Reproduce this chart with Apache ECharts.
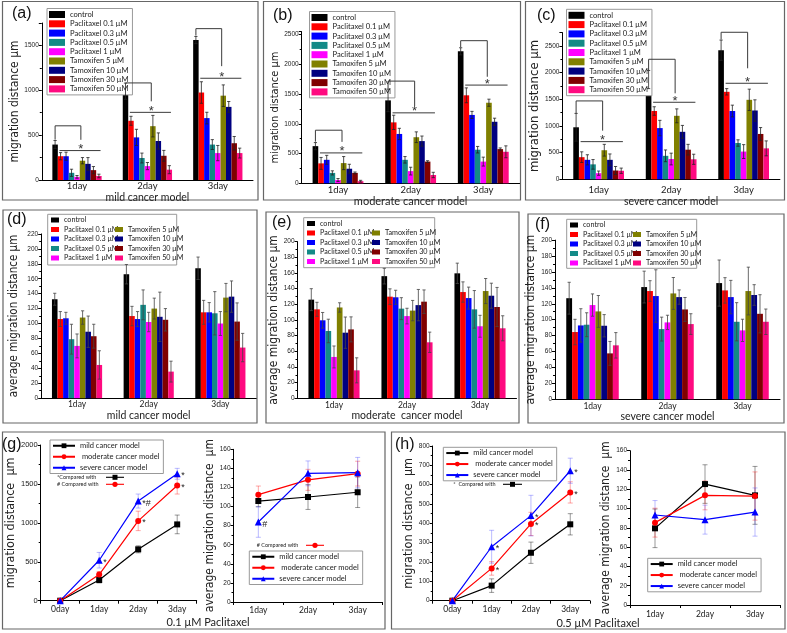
<!DOCTYPE html>
<html><head><meta charset="utf-8">
<script src="https://cdn.jsdelivr.net/npm/echarts@6/dist/echarts.min.js"></script>
<style>html,body{margin:0;padding:0;background:#fff}#c{width:787px;height:633px}</style>
</head><body><div id="c"></div>
<script>
// ---------------- DATA ----------------
const dayCats = ['1day', '2day', '3day'];
const lineDays = ['0day', '1day', '2day', '3day'];
const treatments = ['control', 'Paclitaxel 0.1 μM', 'Paclitaxel 0.3 μM', 'Paclitaxel 0.5 μM', 'Paclitaxel 1 μM',
  'Tamoxifen 5 μM', 'Tamoxifen 10 μM', 'Tamoxifen 30 μM', 'Tamoxifen 50 μM'];
const models = ['mild cancer model', 'moderate cancer model', 'severe cancer model'];

// migration distance (μm), one row per treatment: [1day, 2day, 3day]
const mildDist = [[395, 990, 1560], [265, 660, 975], [265, 475, 690], [80, 245, 395], [35, 155, 300], [215, 600, 940], [180, 435, 815], [110, 270, 410], [45, 115, 300]];
const mildDistErr = [[45, 90, 40], [40, 50, 120], [45, 90, 65], [40, 55, 55], [15, 40, 85], [35, 120, 120], [70, 90, 60], [40, 60, 75], [20, 45, 55]];
const modDist = [[625, 1395, 2220], [335, 1025, 1480], [395, 830, 1150], [175, 395, 565], [55, 205, 365], [340, 775, 1355], [245, 710, 1035], [175, 365, 575], [35, 140, 530]];
const modDistErr = [[60, 190, 60], [100, 120, 125], [75, 95, 60], [35, 55, 55], [25, 65, 75], [110, 90, 60], [75, 85, 60], [15, 15, 20], [15, 45, 100]];
const sevDist = [[975, 1870, 2420], [415, 1280, 1640], [365, 960, 1280], [280, 440, 680], [115, 380, 520], [545, 1190, 1490], [365, 890, 1290], [165, 555, 850], [160, 375, 580]];
const sevDistErr = [[260, 170, 190], [100, 80, 60], [95, 145, 110], [90, 110, 60], [40, 110, 130], [110, 130, 200], [110, 120, 200], [75, 100, 120], [50, 95, 140]];

// significance brackets: [day index, bracket top, left leg bottom, drop end, line level]
const mildBrackets = [[0, 604, 450, 448, 328], [1, 1082, 1080, 877, 754], [2, 1687, 1610, 1269, 1134]];
const modBrackets = [[0, 893, 700, 697, 511], [1, 1719, 1590, 1298, 1185], [2, 2399, 2290, 1792, 1652]];
const sevBrackets = [[0, 1469, 1240, 912, 706], [1, 2250, 2045, 1612, 1444], [2, 2756, 2620, 2081, 1800]];

// average migration distance (μm)
const mildAvg = [[132.5, 166, 174], [106, 110, 115], [107, 106, 115], [79, 125, 113.7], [70, 102, 100], [108, 120, 134.7], [89, 109, 136], [83, 105, 102.6], [44.5, 35.6, 67.8]];
const mildAvgErr = [[8, 13, 15], [10, 13, 16], [8, 10, 13], [20, 20, 29], [16, 13, 16], [9, 14, 19], [21, 33, 21], [16, 15, 25], [19, 14, 19]];
const modAvg = [[126, 156, 159.6], [113.6, 129.8, 135.7], [99.6, 129, 128], [86, 114.5, 113.6], [52.8, 105, 92], [116, 112, 137], [83.8, 119, 131], [88, 123.4, 116.6], [35.7, 71.5, 89.4]];
const modAvgErr = [[14, 10, 13], [9, 10, 13], [10, 9, 14], [15, 14, 24], [14, 10, 14], [6, 13, 16], [20, 20, 16], [16, 15, 25], [16, 13, 16]];
const sevAvg = [[127, 141, 146], [84.5, 136, 136.8], [92.8, 129.7, 128.4], [93.7, 88.2, 97.4], [118.4, 96.6, 86.6], [110.4, 133, 136], [92.4, 128.4, 131], [57.7, 112.9, 107.4], [67.8, 94.5, 97.4]];
const sevAvgErr = [[20, 20, 29], [16, 13, 16], [21, 33, 21], [15, 15, 24], [14, 9, 14], [20, 20, 30], [14, 9, 13], [15, 15, 24], [16, 13, 16]];

// 0.1 μM Paclitaxel, per model
const p01Dist = [[0, 265, 660, 980], [0, 335, 1025, 1480], [0, 520, 1280, 1630]];
const p01DistErr = [[0, 35, 45, 120], [0, 40, 125, 110], [0, 100, 90, 70]];
const p01Avg = [[105.8, 110, 115], [112.5, 128, 134.5], [83.8, 134.8, 135.5]];
const p01AvgErr = [[6, 13, 16], [9, 11, 13], [16, 13, 16]];
// 0.5 μM Paclitaxel, per model
const p05Dist = [[0, 78, 248, 395], [0, 167, 397, 560], [0, 279, 440, 672]];
const p05DistErr = [[0, 35, 55, 55], [0, 35, 60, 55], [0, 85, 105, 65]];
const p05Avg = [[79.5, 125.4, 113.7], [85.4, 113.7, 113], [93.3, 88.5, 96.4]];
const p05AvgErr = [[20, 20, 30], [15, 15, 25], [15, 15, 25]];

// significance marks on line plots: [day index, model index, text]
const p01DistMarks = [[1, 2, '*'], [2, 2, '*#'], [2, 1, '*'], [3, 1, '*'], [3, 2, '*']];
const p01AvgMarks = [[0, 2, '#']];
const p05DistMarks = [[1, 2, '*'], [1, 1, '*'], [2, 2, '*'], [2, 1, '*'], [3, 2, '*'], [3, 1, '*']];

// ---------------- STYLE ----------------
const treatColors = ['#000000', '#ff0000', '#0000ff', '#138a87', '#ff00ff', '#808000', '#000080', '#800000', '#ff0a80'];
const modelColors = ['#000000', '#ff0000', '#0000ff'];
const modelErrColors = ['rgba(0,0,0,0.4)', 'rgba(255,0,0,0.35)', 'rgba(60,60,255,0.35)'];
const modelSymbols = ['rect', 'circle', 'triangle'];
const FONT = "'Liberation Sans', Arial, sans-serif";
const NARROW = "'Liberation Sans Narrow', 'DejaVu Sans Condensed', sans-serif";
const HUM = "Lato, 'Open Sans', sans-serif";

const grids = [], xAxes = [], yAxes = [], series = [], legends = [], graphics = [];

function barErrRender(color, capHalf) {
  return function (params, api) {
    const cat = api.value(0), s = api.value(1);
    const band = api.size([1, 0])[0];
    const bw = band * 0.7 / treatments.length;
    const lo = api.coord([cat, api.value(2)]);
    const hi = api.coord([cat, api.value(3)]);
    const x = lo[0] - band * 0.35 + (s + 0.5) * bw;
    const st = () => ({stroke: color, lineWidth: 0.8});
    return {type: 'group', children: [
      {type: 'line', shape: {x1: x, y1: lo[1], x2: x, y2: hi[1]}, style: st()},
      {type: 'line', shape: {x1: x - capHalf, y1: hi[1], x2: x + capHalf, y2: hi[1]}, style: st()},
      {type: 'line', shape: {x1: x - capHalf, y1: lo[1], x2: x + capHalf, y2: lo[1]}, style: st()}
    ]};
  };
}

function bracketRender(params, api) {
  const cat = api.value(0);
  const band = api.size([1, 0])[0];
  const bw = band * 0.7 / treatments.length;
  const cx = api.coord([cat, 0])[0];
  const y = i => api.coord([cat, api.value(i)])[1];
  const yTop = y(1), yLeg = y(2), yDrop = y(3), yLine = y(4);
  const xL = cx - band * 0.35 + 0.5 * bw;
  const xR = cx + band * 0.055;
  const l1 = cx - band * 0.35 + 1.3 * bw, l2 = cx + band * 0.35 - 0.2 * bw;
  return {type: 'group', children: [
    {type: 'polyline', shape: {points: [[xL, yLeg], [xL, yTop], [xR, yTop], [xR, yDrop]]}, style: {stroke: '#3a3a3a', lineWidth: 1, fill: 'none'}},
    {type: 'line', shape: {x1: l1, y1: yLine, x2: l2, y2: yLine}, style: {stroke: '#3a3a3a', lineWidth: 1}},
    {type: 'text', x: xR, y: yLine - 1, style: {text: '*', fontSize: 13, fontFamily: FONT, fill: '#333', align: 'center', verticalAlign: 'middle'}}
  ]};
}

function lineErrRender(capHalf) {
  return function (params, api) {
    const cat = api.value(0), m = api.value(1);
    const lo = api.coord([cat, api.value(2)]), hi = api.coord([cat, api.value(3)]);
    const c = modelErrColors[m];
    const st = () => ({stroke: c, lineWidth: 1});
    return {type: 'group', children: [
      {type: 'line', shape: {x1: lo[0], y1: lo[1], x2: hi[0], y2: hi[1]}, style: st()},
      {type: 'line', shape: {x1: hi[0] - capHalf, y1: hi[1], x2: hi[0] + capHalf, y2: hi[1]}, style: st()},
      {type: 'line', shape: {x1: lo[0] - capHalf, y1: lo[1], x2: lo[0] + capHalf, y2: lo[1]}, style: st()}
    ]};
  };
}

function markRender(marks) {
  return function (params, api) {
    const pt = api.coord([api.value(0), api.value(1)]);
    return {type: 'text', x: pt[0] + 4, y: pt[1] + 2, style: {text: marks[params.dataIndex][2], fontSize: 9, fontFamily: FONT, fill: '#222', align: 'left', verticalAlign: 'middle'}};
  };
}

function valueAxis(gi, p) {
  return {gridIndex: gi, type: 'value', min: 0, max: p.max, interval: p.interval,
    axisLine: {show: true, lineStyle: {color: '#000', width: 1}},
    axisTick: {show: true, length: 3, lineStyle: {color: '#000'}},
    minorTick: {show: true, splitNumber: 2, length: 2, lineStyle: {color: '#000'}},
    splitLine: {show: false},
    axisLabel: {fontFamily: FONT, fontSize: p.tickFont, color: '#222', margin: 3,
      formatter: v => (Math.abs(v % p.interval) < 1e-9 ? String(v) : '')},
    name: p.yName, nameLocation: 'middle', nameGap: p.yNameGap,
    nameTextStyle: {fontFamily: NARROW, fontSize: p.yNameFont, color: '#222'}};
}

function addBarPanel(p) {
  const gi = grids.length;
  grids.push({left: p.left, top: p.top, width: p.width, height: p.height});
  xAxes.push({gridIndex: gi, type: 'category', data: dayCats, boundaryGap: true,
    axisLine: {lineStyle: {color: '#000', width: 1}}, axisTick: {show: false},
    axisLabel: {fontFamily: HUM, fontSize: p.catFont, color: '#222', margin: p.catMargin},
    name: p.xName, nameLocation: 'middle', nameGap: p.xNameGap,
    nameTextStyle: {fontFamily: HUM, fontSize: p.xNameFont, color: '#222'}});
  yAxes.push(valueAxis(gi, p));
  p.vals.forEach((arr, s) => {
    series.push({type: 'bar', name: treatments[s], xAxisIndex: gi, yAxisIndex: gi, data: arr,
      barGap: '0%', barCategoryGap: '30%', itemStyle: {color: treatColors[s]}, animation: false});
  });
  const errData = [];
  p.vals.forEach((arr, s) => arr.forEach((v, c) => errData.push([c, s, v - p.errs[s][c], v + p.errs[s][c]])));
  series.push({type: 'custom', xAxisIndex: gi, yAxisIndex: gi, data: errData,
    renderItem: barErrRender(p.errColor, p.cap), z: 5, animation: false, silent: true});
  if (p.brackets) {
    series.push({type: 'custom', xAxisIndex: gi, yAxisIndex: gi, data: p.brackets,
      renderItem: bracketRender, z: 6, clip: false, animation: false, silent: true});
  }
}

function addLinePanel(p) {
  const gi = grids.length;
  grids.push({left: p.left, top: p.top, width: p.width, height: p.height});
  xAxes.push({gridIndex: gi, type: 'category', data: p.cats, boundaryGap: true,
    axisLine: {lineStyle: {color: '#000', width: 1}}, axisTick: {show: true, length: 3, lineStyle: {color: '#000'}},
    axisLabel: {fontFamily: HUM, fontSize: p.catFont, color: '#222', margin: p.catMargin}});
  yAxes.push(valueAxis(gi, p));
  const errData = [];
  p.vals.forEach((arr, m) => arr.forEach((v, c) => { if (p.errs[m][c] > 0) errData.push([c, m, v - p.errs[m][c], v + p.errs[m][c]]); }));
  series.push({type: 'custom', xAxisIndex: gi, yAxisIndex: gi, data: errData,
    renderItem: lineErrRender(p.cap), z: 1, animation: false, silent: true});
  p.vals.forEach((arr, m) => {
    series.push({type: 'line', name: models[m], xAxisIndex: gi, yAxisIndex: gi, data: arr,
      symbol: modelSymbols[m], symbolSize: m === 2 ? 7 : 6, z: 3,
      lineStyle: {color: modelColors[m], width: 1.2}, itemStyle: {color: modelColors[m]}, animation: false});
  });
  if (p.marks) {
    series.push({type: 'custom', xAxisIndex: gi, yAxisIndex: gi,
      data: p.marks.map(k => [k[0], p.vals[k[1]][k[0]]]),
      renderItem: markRender(p.marks), z: 4, clip: false, animation: false, silent: true});
  }
}

// ---------------- PANELS ----------------
addBarPanel({left: 41.8, top: 23, width: 211.2, height: 157, max: 1750, interval: 500, vals: mildDist, errs: mildDistErr,
  brackets: mildBrackets, errColor: '#222', cap: 1.6, tickFont: 6.5, catFont: 9.5, catMargin: 1,
  xName: 'mild cancer model', xNameGap: 7, xNameFont: 10.5, yName: 'migration distance μm', yNameGap: 20, yNameFont: 12});
addBarPanel({left: 301.7, top: 31.7, width: 217.9, height: 151.6, max: 2550, interval: 500, vals: modDist, errs: modDistErr,
  brackets: modBrackets, errColor: '#222', cap: 1.6, tickFont: 6.5, catFont: 9.5, catMargin: 2,
  xName: 'moderate cancer model', xNameGap: 10, xNameFont: 11, yName: 'migration distance μm', yNameGap: 18, yNameFont: 11});
addBarPanel({left: 562.4, top: 32.6, width: 217.5, height: 146.7, max: 2750, interval: 500, vals: sevDist, errs: sevDistErr,
  brackets: sevBrackets, errColor: '#222', cap: 1.6, tickFont: 6.5, catFont: 9.5, catMargin: 6,
  xName: 'severe cancer model', xNameGap: 14, xNameFont: 10.5, yName: 'migration distance μm', yNameGap: 15, yNameFont: 13});
addBarPanel({left: 41.2, top: 233.9, width: 215, height: 164.3, max: 220, interval: 20, vals: mildAvg, errs: mildAvgErr,
  errColor: '#444', cap: 1.6, tickFont: 6.5, catFont: 8.5, catMargin: 2,
  xName: 'mild cancer model', xNameGap: 11, xNameFont: 10.5, yName: 'average migration distance μm', yNameGap: 21, yNameFont: 11.5});
addBarPanel({left: 297.5, top: 241.7, width: 219, height: 156.6, max: 200, interval: 20, vals: modAvg, errs: modAvgErr,
  errColor: '#444', cap: 1.6, tickFont: 6.5, catFont: 8.5, catMargin: 2,
  xName: 'moderate  cancer model', xNameGap: 11, xNameFont: 10.5, yName: 'average migration distance μm', yNameGap: 14, yNameFont: 12});
addBarPanel({left: 555, top: 240.1, width: 225, height: 159.2, max: 200, interval: 20, vals: sevAvg, errs: sevAvgErr,
  errColor: '#444', cap: 1.6, tickFont: 6.5, catFont: 8.5, catMargin: 2,
  xName: 'severe cancer model', xNameGap: 12, xNameFont: 10.5, yName: 'average migration distance μm', yNameGap: 10, yNameFont: 12});

addLinePanel({left: 40.7, top: 445, width: 156, height: 155.7, max: 2000, interval: 500, cats: lineDays,
  vals: p01Dist, errs: p01DistErr, marks: p01DistMarks, cap: 2.5, tickFont: 7.5, catFont: 8.5, catMargin: 4,
  yName: 'migration distance  μm', yNameGap: 15, yNameFont: 12.5});
addLinePanel({left: 233.5, top: 449.3, width: 149, height: 152.7, max: 160, interval: 20, cats: dayCats,
  vals: p01Avg, errs: p01AvgErr, marks: p01AvgMarks, cap: 2.5, tickFont: 6.5, catFont: 8.5, catMargin: 4,
  yName: 'average migration distance  μm', yNameGap: 11, yNameFont: 12});
addLinePanel({left: 432.7, top: 446, width: 157.2, height: 154.7, max: 800, interval: 100, cats: lineDays,
  vals: p05Dist, errs: p05DistErr, marks: p05DistMarks, cap: 2.5, tickFont: 6.5, catFont: 8.5, catMargin: 4,
  yName: 'migration distance  μm', yNameGap: 16, yNameFont: 12.5});
addLinePanel({left: 630, top: 450.7, width: 150, height: 154.3, max: 160, interval: 20, cats: dayCats,
  vals: p05Avg, errs: p05AvgErr, cap: 2.5, tickFont: 6.5, catFont: 8.5, catMargin: 5,
  yName: 'average migration distance  μm', yNameGap: 13, yNameFont: 12});

// ---------------- LEGENDS ----------------
function bigLegend(left, top) {
  legends.push({data: treatments, orient: 'vertical', left, top, icon: 'rect', itemWidth: 16, itemHeight: 7, itemGap: 1.3,
    padding: [2, 4, 2, 2], borderColor: '#999', borderWidth: 1, backgroundColor: '#fff', selectedMode: false,
    textStyle: {fontFamily: HUM, fontSize: 7.6, color: '#222', lineHeight: 8}});
}
bigLegend(47, 8.5);
bigLegend(309.5, 11.5);
bigLegend(566.5, 9.3);

function twoColLegend(left1, left2, top) {
  const common = {orient: 'vertical', icon: 'rect', itemWidth: 8, itemHeight: 5, itemGap: 1.5, padding: 0, selectedMode: false,
    textStyle: {fontFamily: HUM, fontSize: 7.2, color: '#222', lineHeight: 8}};
  legends.push(Object.assign({data: treatments.slice(0, 5), left: left1, top}, common));
  legends.push(Object.assign({data: treatments.slice(5), left: left2, top: top + 9.5}, common));
}
twoColLegend(51, 115, 216);
twoColLegend(307, 372, 219.5);
twoColLegend(570, 633, 221);

function lineLegend(left, top) {
  legends.push({data: models, orient: 'vertical', left, top, itemWidth: 22, itemHeight: 6, itemGap: 1.5,
    padding: [1, 4, 1, 2], borderColor: '#999', borderWidth: 1, backgroundColor: '#fff', selectedMode: false,
    formatter: n => (n.indexOf('moderate') === 0 ? ' ' + n : n),
    textStyle: {fontFamily: HUM, fontSize: 7.5, color: '#222', lineHeight: 9.5}});
}
lineLegend(50, 440);
lineLegend(249.3, 551);
lineLegend(443.3, 447.3);
lineLegend(647.7, 558.3);

// ---------------- DECORATIONS ----------------
[[2.5, 1.5, 255.5, 198.5], [263.5, 1.5, 257, 198.5], [525.5, 1.5, 259, 198.5],
 [3, 210, 254, 213], [266, 212, 253, 211], [528, 214, 256, 209],
 [2.5, 432, 382.5, 197], [391.5, 432, 393.5, 197]].forEach(b => {
  graphics.push({type: 'rect', shape: {x: b[0], y: b[1], width: b[2], height: b[3]}, style: {fill: 'none', stroke: '#666', lineWidth: 1.2}, silent: true});
});
[[47.7, 214.3, 129, 50.7], [303.7, 217.7, 131, 50], [566.7, 219.3, 130, 49]].forEach(b => {
  graphics.push({type: 'rect', shape: {x: b[0], y: b[1], width: b[2], height: b[3]}, style: {fill: 'none', stroke: '#999', lineWidth: 1}, silent: true});
});
[['(a)', 12, 6], ['(b)', 273, 8], ['(c)', 537, 8], ['(d)', 7, 212], ['(e)', 272, 215], ['(f)', 535, 217], ['(g)', 2, 437], ['(h)', 395, 437]].forEach(t => {
  graphics.push({type: 'text', x: t[1], y: t[2], style: {text: t[0], fontSize: 16, fontFamily: FONT, fill: '#111', align: 'left', verticalAlign: 'top'}, silent: true});
});
graphics.push({type: 'text', x: 208, y: 622, style: {text: '0.1 μM Paclitaxel', fontSize: 11, fontFamily: HUM, fill: '#222', align: 'center', verticalAlign: 'middle'}});
graphics.push({type: 'text', x: 598, y: 623, style: {text: '0.5 μM Paclitaxel', fontSize: 11, fontFamily: HUM, fill: '#222', align: 'center', verticalAlign: 'middle'}});

function comparedWith(prefix, x, y, lineX1, lineX2, m) {
  graphics.push({type: 'text', x, y, style: {text: prefix + 'Compared with', fontSize: 5.5, fontFamily: HUM, fill: '#222', align: 'left', verticalAlign: 'middle'}});
  graphics.push({type: 'line', shape: {x1: lineX1, y1: y, x2: lineX2, y2: y}, style: {stroke: modelColors[m], lineWidth: 1.1}});
  const cx = (lineX1 + lineX2) / 2;
  if (m === 0) graphics.push({type: 'rect', shape: {x: cx - 2.5, y: y - 2.5, width: 5, height: 5}, style: {fill: modelColors[m]}});
  else graphics.push({type: 'circle', shape: {cx, cy: y, r: 2.6}, style: {fill: modelColors[m]}});
}
comparedWith('*', 57, 477.3, 106, 124, 0);
comparedWith('# ', 57, 484.3, 106, 124, 1);
comparedWith('# ', 256.7, 545.3, 306, 324, 1);
comparedWith('*  ', 453.3, 484.3, 503, 522, 0);

const chart = echarts.init(document.getElementById('c'));
chart.setOption({
  animation: false,
  backgroundColor: '#fff',
  grid: grids, xAxis: xAxes, yAxis: yAxes, series, legend: legends, graphic: graphics
});
</script></body></html>
